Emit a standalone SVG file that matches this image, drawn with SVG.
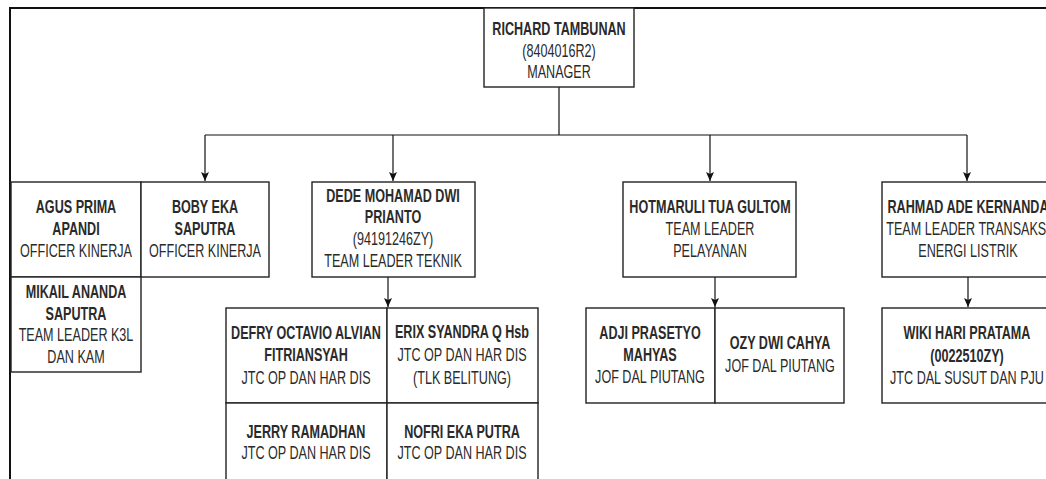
<svg xmlns="http://www.w3.org/2000/svg" width="1046" height="479" viewBox="0 0 1046 479">
<style>
.box{fill:#fff;stroke:#222;stroke-width:1.4}
.frame{fill:none;stroke:#111;stroke-width:2}
.c{fill:none;stroke:#111;stroke-width:1.2}
text{font-family:"Liberation Sans",Arial,sans-serif;font-size:17.5px;fill:#2a2a2a;text-anchor:middle;dominant-baseline:central}
.n{font-weight:bold}
</style>
<defs>
<marker id="ah" markerWidth="10" markerHeight="10" refX="9" refY="4" orient="auto" markerUnits="userSpaceOnUse">
<path d="M0,0 L9,4 L0,8 L2,4 z" fill="#111"/>
</marker>
</defs>
<rect width="1046" height="479" fill="#fff"/>
<path class="frame" d="M10,479 V8 H1046"/>
<g id="connectors">
<path class="c" d="M559,87 V135 M205,135 H967"/>
<path class="c" d="M205,135 V181" marker-end="url(#ah)"/>
<path class="c" d="M393,135 V181" marker-end="url(#ah)"/>
<path class="c" d="M710,135 V181" marker-end="url(#ah)"/>
<path class="c" d="M967,135 V181" marker-end="url(#ah)"/>
<path class="c" d="M388,277 V307" marker-end="url(#ah)"/>
<path class="c" d="M715,277 V307" marker-end="url(#ah)"/>
<path class="c" d="M968,277 V307" marker-end="url(#ah)"/>
</g>
<g id="manager">
<rect class="box" x="484" y="8" width="150" height="79"/>
<text class="n" transform="translate(559,29) scale(0.72,1)">RICHARD TAMBUNAN</text>
<text transform="translate(559,51) scale(0.72,1)">(8404016R2)</text>
<text transform="translate(559,72) scale(0.72,1)">MANAGER</text>
</g>
<g id="agus">
<rect class="box" x="11" y="182" width="130" height="95"/>
<text class="n" transform="translate(76,207) scale(0.72,1)">AGUS PRIMA</text>
<text class="n" transform="translate(76,229) scale(0.72,1)">APANDI</text>
<text transform="translate(76,251) scale(0.72,1)">OFFICER KINERJA</text>
</g>
<g id="boby">
<rect class="box" x="141" y="182" width="128" height="95"/>
<text class="n" transform="translate(205,207) scale(0.72,1)">BOBY EKA</text>
<text class="n" transform="translate(205,229) scale(0.72,1)">SAPUTRA</text>
<text transform="translate(205,251) scale(0.72,1)">OFFICER KINERJA</text>
</g>
<g id="mikail">
<rect class="box" x="11" y="277" width="130" height="95"/>
<text class="n" transform="translate(76,292) scale(0.72,1)">MIKAIL ANANDA</text>
<text class="n" transform="translate(76,314) scale(0.72,1)">SAPUTRA</text>
<text transform="translate(76,335) scale(0.72,1)">TEAM LEADER K3L</text>
<text transform="translate(76,357) scale(0.72,1)">DAN KAM</text>
</g>
<g id="dede">
<rect class="box" x="312" y="182" width="163" height="95"/>
<text class="n" transform="translate(393,196) scale(0.72,1)">DEDE MOHAMAD DWI</text>
<text class="n" transform="translate(393,217) scale(0.72,1)">PRIANTO</text>
<text transform="translate(393,239) scale(0.72,1)">(94191246ZY)</text>
<text transform="translate(393,261) scale(0.72,1)">TEAM LEADER TEKNIK</text>
</g>
<g id="defry">
<rect class="box" x="226" y="308" width="161" height="95"/>
<text class="n" transform="translate(306,333) scale(0.72,1)">DEFRY OCTAVIO ALVIAN</text>
<text class="n" transform="translate(306,355) scale(0.72,1)">FITRIANSYAH</text>
<text transform="translate(306,378) scale(0.72,1)">JTC OP DAN HAR DIS</text>
</g>
<g id="erix">
<rect class="box" x="387" y="308" width="151" height="95"/>
<text class="n" transform="translate(462,332) scale(0.72,1)">ERIX SYANDRA Q Hsb</text>
<text transform="translate(462,355) scale(0.72,1)">JTC OP DAN HAR DIS</text>
<text transform="translate(462,378) scale(0.72,1)">(TLK BELITUNG)</text>
</g>
<g id="jerry">
<rect class="box" x="226" y="403" width="161" height="80"/>
<text class="n" transform="translate(306,432) scale(0.72,1)">JERRY RAMADHAN</text>
<text transform="translate(306,453) scale(0.72,1)">JTC OP DAN HAR DIS</text>
</g>
<g id="nofri">
<rect class="box" x="387" y="403" width="151" height="80"/>
<text class="n" transform="translate(462,432) scale(0.72,1)">NOFRI EKA PUTRA</text>
<text transform="translate(462,453) scale(0.72,1)">JTC OP DAN HAR DIS</text>
</g>
<g id="hotmaruli">
<rect class="box" x="623" y="182" width="173" height="95"/>
<text class="n" transform="translate(710,207) scale(0.72,1)">HOTMARULI TUA GULTOM</text>
<text transform="translate(710,229) scale(0.72,1)">TEAM LEADER</text>
<text transform="translate(710,251) scale(0.72,1)">PELAYANAN</text>
</g>
<g id="adji">
<rect class="box" x="586" y="308" width="129" height="95"/>
<text class="n" transform="translate(650,333) scale(0.72,1)">ADJI PRASETYO</text>
<text class="n" transform="translate(650,355) scale(0.72,1)">MAHYAS</text>
<text transform="translate(650,377) scale(0.72,1)">JOF DAL PIUTANG</text>
</g>
<g id="ozy">
<rect class="box" x="715" y="308" width="129" height="95"/>
<text class="n" transform="translate(780,343) scale(0.72,1)">OZY DWI CAHYA</text>
<text transform="translate(780,366) scale(0.72,1)">JOF DAL PIUTANG</text>
</g>
<g id="rahmad">
<rect class="box" x="882" y="182" width="172" height="95"/>
<text class="n" transform="translate(968,207) scale(0.72,1)">RAHMAD ADE KERNANDA</text>
<text transform="translate(968,229) scale(0.72,1)">TEAM LEADER TRANSAKSI</text>
<text transform="translate(968,251) scale(0.72,1)">ENERGI LISTRIK</text>
</g>
<g id="wiki">
<rect class="box" x="882" y="308" width="172" height="95"/>
<text class="n" transform="translate(967,333) scale(0.72,1)">WIKI HARI PRATAMA</text>
<text class="n" transform="translate(967,356) scale(0.72,1)">(0022510ZY)</text>
<text transform="translate(967,378) scale(0.72,1)">JTC DAL SUSUT DAN PJU</text>
</g>
</svg>
